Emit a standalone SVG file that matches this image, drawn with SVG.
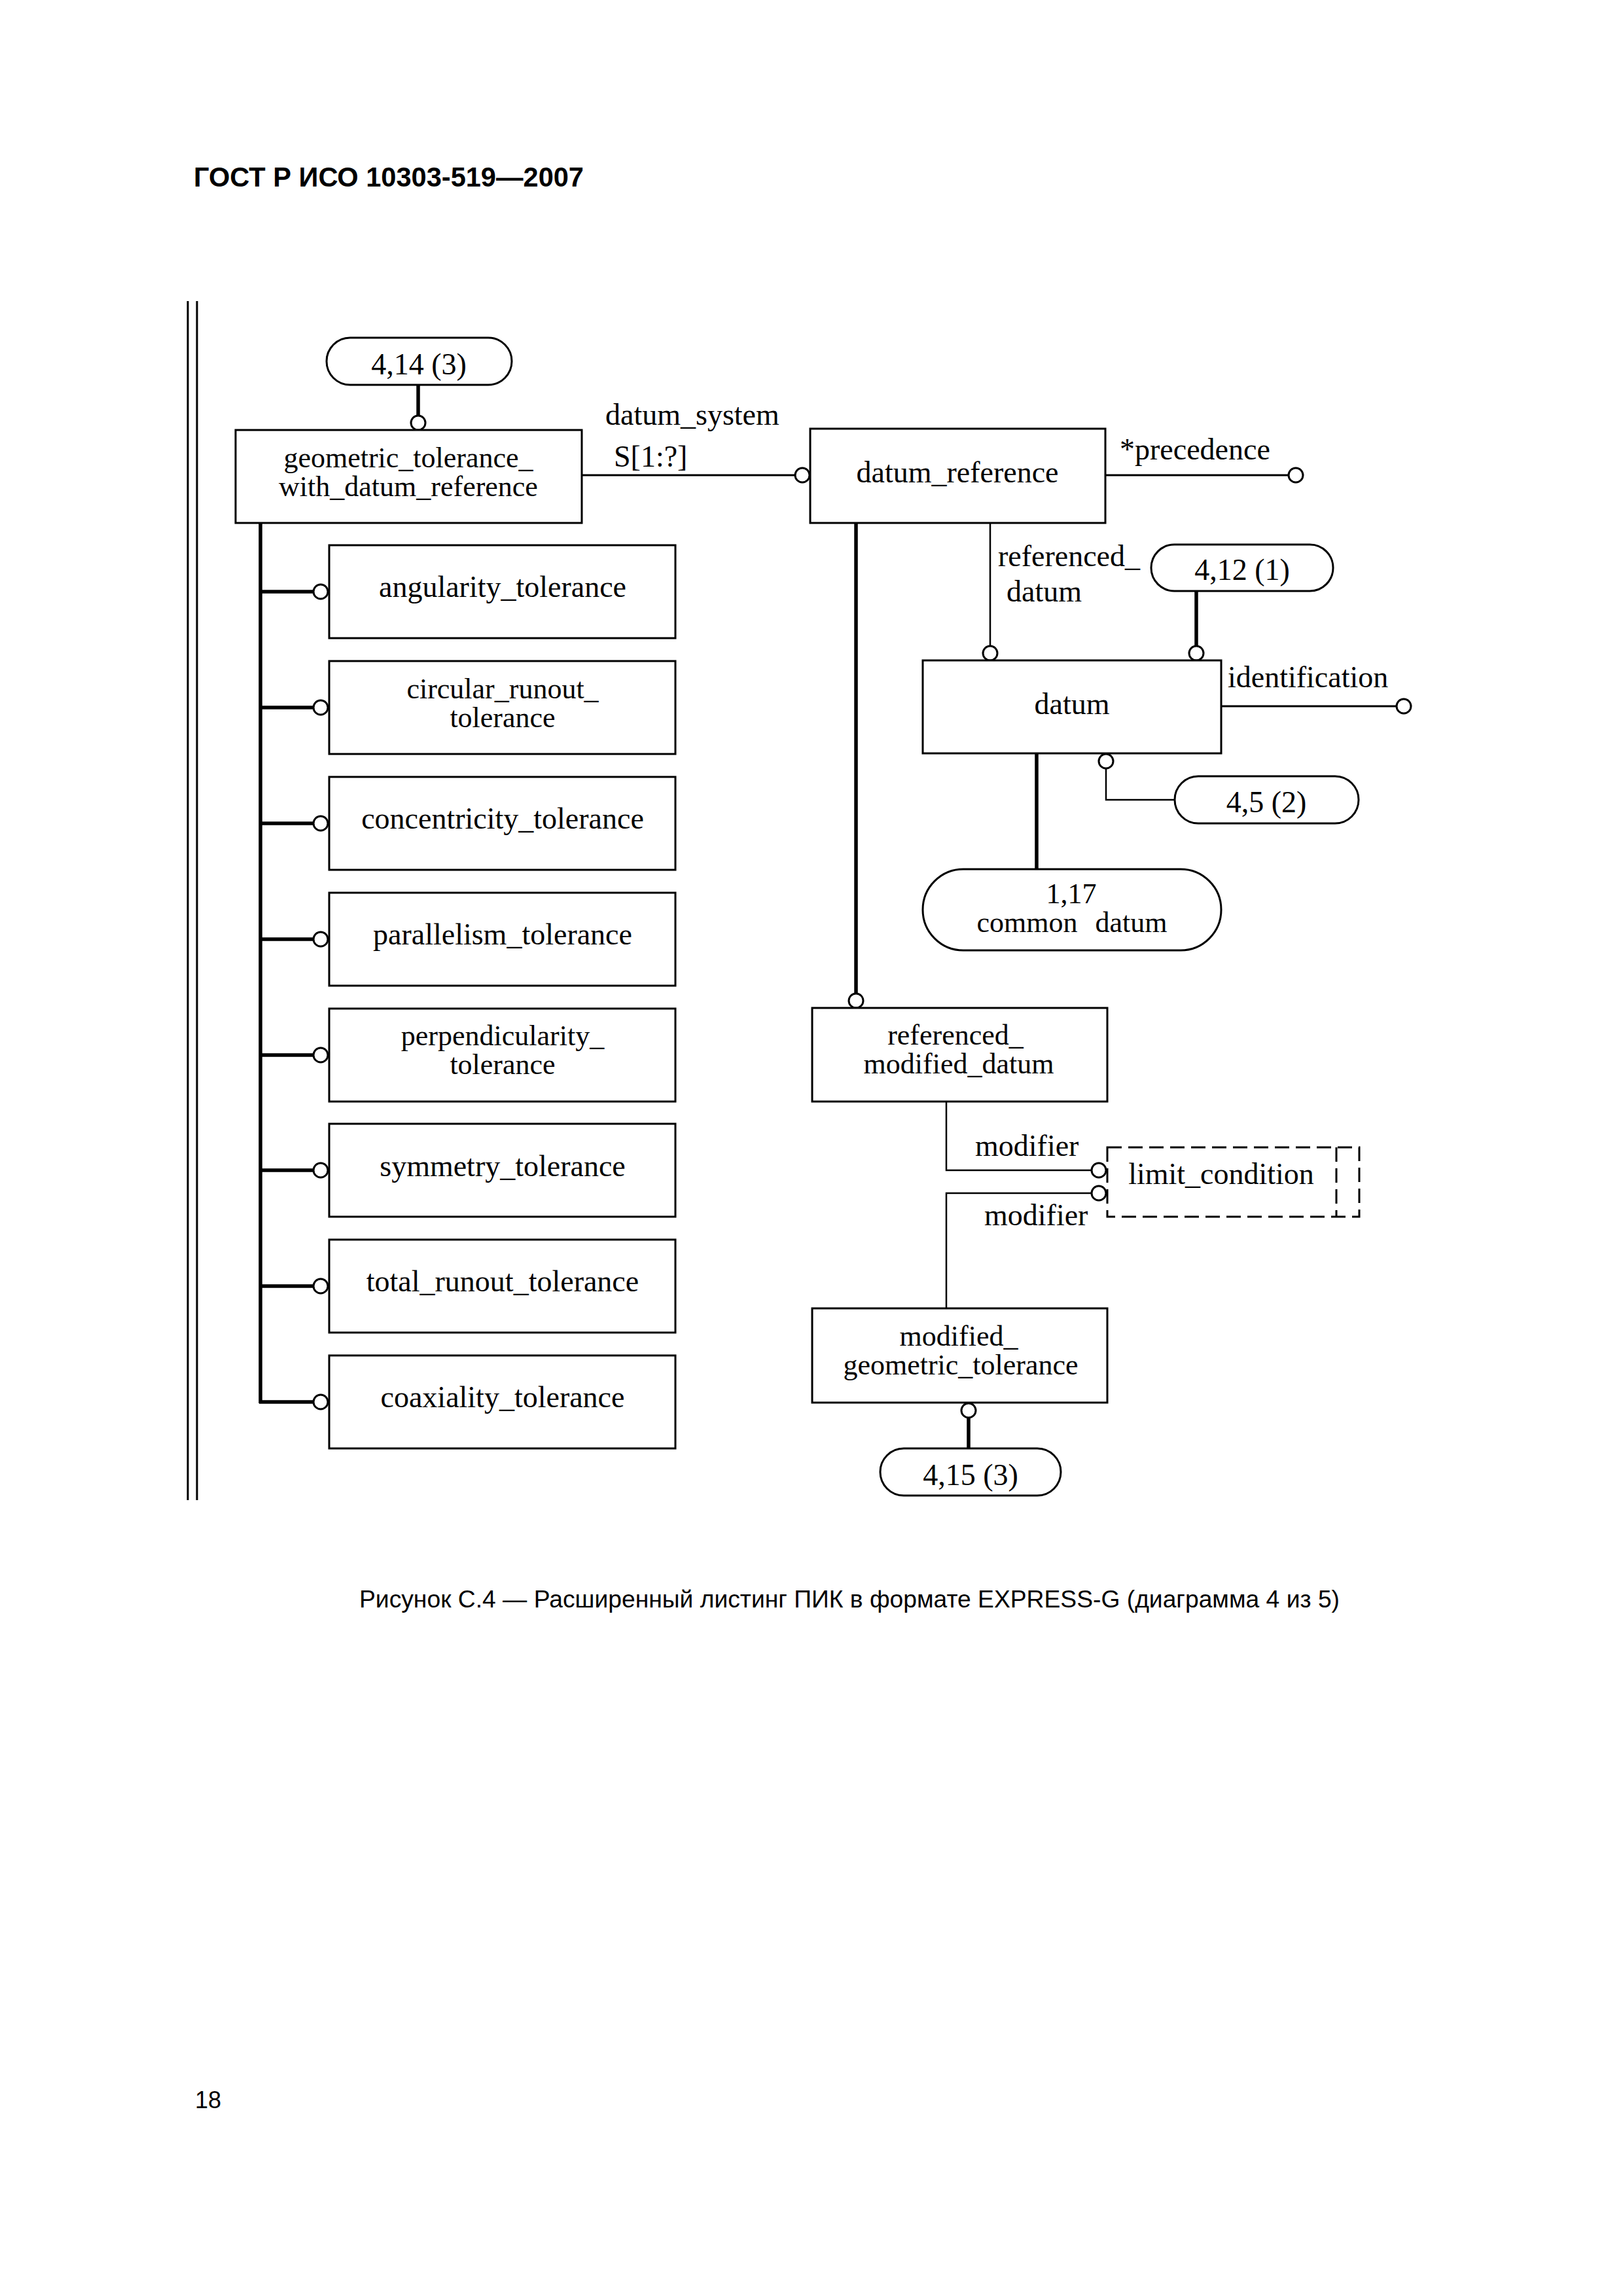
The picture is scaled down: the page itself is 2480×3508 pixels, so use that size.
<svg xmlns="http://www.w3.org/2000/svg" width="2480" height="3508" viewBox="0 0 2480 3508">
<style>
  .bg{fill:#fff}
  .box{fill:#fff;stroke:#000;stroke-width:3}
  .oval{fill:#fff;stroke:#000;stroke-width:3}
  .dash{fill:none;stroke:#000;stroke-width:3;stroke-dasharray:22 10}
  .t{font-family:"Liberation Serif","Times New Roman",serif;font-size:46px;fill:#000;text-anchor:middle}
  .t2{font-family:"Liberation Serif","Times New Roman",serif;font-size:44px;fill:#000;text-anchor:middle}
  .l{font-family:"Liberation Serif","Times New Roman",serif;font-size:46px;fill:#000;text-anchor:start}
  .sans{font-family:"Liberation Sans",Arial,sans-serif;fill:#000}
  .ln{fill:none;stroke:#000;stroke-width:3}
  .thin{fill:none;stroke:#000;stroke-width:2.5}
  .thick{fill:none;stroke:#000;stroke-width:5.5}
  .c{fill:#fff;stroke:#000;stroke-width:3}
</style>
<rect class="bg" x="0" y="0" width="2480" height="3508"/>

<text class="sans" x="296" y="285" font-size="42" font-weight="bold" textLength="596" lengthAdjust="spacingAndGlyphs">ГОСТ Р ИСО 10303-519—2007</text>

<g id="frame">
  <line class="ln" x1="287" y1="460" x2="287" y2="2292"/>
  <line class="ln" x1="301" y1="460" x2="301" y2="2292"/>
</g>

<g id="connectors">
  <line class="thick" x1="639" y1="588" x2="639" y2="635"/>
  <circle class="c" cx="639" cy="646" r="11"/>

  <line class="ln" x1="889" y1="726" x2="1215" y2="726"/>
  <circle class="c" cx="1226" cy="726" r="11"/>

  <line class="ln" x1="1689" y1="726" x2="1969" y2="726"/>
  <circle class="c" cx="1980" cy="726" r="11"/>

  <line class="thin" x1="1513" y1="799" x2="1513" y2="987"/>
  <circle class="c" cx="1513" cy="998" r="11"/>

  <line class="thick" x1="1828" y1="903" x2="1828" y2="987"/>
  <circle class="c" cx="1828" cy="998" r="11"/>

  <line class="ln" x1="1866" y1="1079" x2="2134" y2="1079"/>
  <circle class="c" cx="2145" cy="1079" r="11"/>

  <path class="thin" d="M1690,1174 V1222 H1795"/>
  <circle class="c" cx="1690" cy="1163" r="11"/>

  <line class="thick" x1="1584" y1="1151" x2="1584" y2="1328"/>

  <line class="thick" x1="1308" y1="799" x2="1308" y2="1518"/>
  <circle class="c" cx="1308" cy="1529" r="11"/>

  <path class="thin" d="M1446,1683 V1788 H1667"/>
  <circle class="c" cx="1679" cy="1788" r="11"/>
  <path class="thin" d="M1446,1999 V1823 H1667"/>
  <circle class="c" cx="1679" cy="1823" r="11"/>

  <line class="thick" x1="1480" y1="2166" x2="1480" y2="2213"/>
  <circle class="c" cx="1480" cy="2155" r="11"/>

  <line class="thick" x1="398" y1="799" x2="398" y2="2144"/>
  <path class="thick" d="M398,904 H479 M398,1081 H479 M398,1258 H479 M398,1435 H479 M398,1612 H479 M398,1788 H479 M398,1965 H479 M396,2142 H479"/>
  <circle class="c" cx="490" cy="904" r="11"/>
  <circle class="c" cx="490" cy="1081" r="11"/>
  <circle class="c" cx="490" cy="1258" r="11"/>
  <circle class="c" cx="490" cy="1435" r="11"/>
  <circle class="c" cx="490" cy="1612" r="11"/>
  <circle class="c" cx="490" cy="1788" r="11"/>
  <circle class="c" cx="490" cy="1965" r="11"/>
  <circle class="c" cx="490" cy="2142" r="11"/>

  <text class="l" x="925" y="649">datum_system</text>
  <text class="l" x="938" y="713">S[1:?]</text>
  <text class="l" x="1711" y="702">*precedence</text>
  <text class="l" x="1525" y="865">referenced_</text>
  <text class="l" x="1538" y="919">datum</text>
  <text class="l" x="1876" y="1050">identification</text>
  <text class="l" x="1490" y="1766">modifier</text>
  <text class="l" x="1504" y="1872">modifier</text>
</g>

<g id="ref_4_14_3">
  <rect class="oval" x="499" y="516" width="283" height="72" rx="36" ry="36"/>
  <text class="t" x="640" y="572">4,14 (3)</text>
</g>

<g id="geometric_tolerance_with_datum_reference">
  <rect class="box" x="360" y="657" width="529" height="142"/>
  <text class="t2" x="624" y="714">geometric_tolerance_</text>
  <text class="t2" x="624" y="758">with_datum_reference</text>
</g>

<g id="angularity_tolerance">
  <rect class="box" x="503" y="833" width="529" height="142"/>
  <text class="t" x="768" y="912">angularity_tolerance</text>
</g>
<g id="circular_runout_tolerance">
  <rect class="box" x="503" y="1010" width="529" height="142"/>
  <text class="t2" x="768" y="1067">circular_runout_</text>
  <text class="t2" x="768" y="1111">tolerance</text>
</g>
<g id="concentricity_tolerance">
  <rect class="box" x="503" y="1187" width="529" height="142"/>
  <text class="t" x="768" y="1266">concentricity_tolerance</text>
</g>
<g id="parallelism_tolerance">
  <rect class="box" x="503" y="1364" width="529" height="142"/>
  <text class="t" x="768" y="1443">parallelism_tolerance</text>
</g>
<g id="perpendicularity_tolerance">
  <rect class="box" x="503" y="1541" width="529" height="142"/>
  <text class="t2" x="768" y="1597">perpendicularity_</text>
  <text class="t2" x="768" y="1641">tolerance</text>
</g>
<g id="symmetry_tolerance">
  <rect class="box" x="503" y="1717" width="529" height="142"/>
  <text class="t" x="768" y="1797">symmetry_tolerance</text>
</g>
<g id="total_runout_tolerance">
  <rect class="box" x="503" y="1894" width="529" height="142"/>
  <text class="t" x="768" y="1973">total_runout_tolerance</text>
</g>
<g id="coaxiality_tolerance">
  <rect class="box" x="503" y="2071" width="529" height="142"/>
  <text class="t" x="768" y="2150">coaxiality_tolerance</text>
</g>

<g id="datum_reference">
  <rect class="box" x="1238" y="655" width="451" height="144"/>
  <text class="t" x="1463" y="737">datum_reference</text>
</g>

<g id="ref_4_12_1">
  <rect class="oval" x="1759" y="832" width="278" height="71" rx="35.5" ry="35.5"/>
  <text class="t" x="1898" y="886">4,12 (1)</text>
</g>

<g id="datum">
  <rect class="box" x="1410" y="1009" width="456" height="142"/>
  <text class="t" x="1638" y="1091">datum</text>
</g>

<g id="ref_4_5_2">
  <rect class="oval" x="1795" y="1186" width="281" height="72" rx="36" ry="36"/>
  <text class="t" x="1935" y="1241">4,5 (2)</text>
</g>

<g id="ref_1_17_common_datum">
  <rect class="oval" x="1410" y="1328" width="456" height="124" rx="62" ry="62"/>
  <text class="t2" x="1637" y="1380">1,17</text>
  <text class="t2" x="1638" y="1424" word-spacing="16">common datum</text>
</g>

<g id="referenced_modified_datum">
  <rect class="box" x="1241" y="1540" width="451" height="143"/>
  <text class="t2" x="1460" y="1596">referenced_</text>
  <text class="t2" x="1465" y="1640">modified_datum</text>
</g>

<g id="limit_condition">
  <rect class="dash" x="1692" y="1753" width="385" height="106"/>
  <line class="dash" x1="2042" y1="1753" x2="2042" y2="1859"/>
  <text class="t" x="1866" y="1809">limit_condition</text>
</g>

<g id="modified_geometric_tolerance">
  <rect class="box" x="1241" y="1999" width="451" height="144"/>
  <text class="t2" x="1465" y="2056">modified_</text>
  <text class="t2" x="1468" y="2100">geometric_tolerance</text>
</g>

<g id="ref_4_15_3">
  <rect class="oval" x="1345" y="2213" width="276" height="72" rx="36" ry="36"/>
  <text class="t" x="1483" y="2269">4,15 (3)</text>
</g>

<text class="sans" x="549" y="2456" font-size="36" textLength="1498" lengthAdjust="spacingAndGlyphs">Рисунок С.4 — Расширенный листинг ПИК в формате EXPRESS-G (диаграмма 4 из 5)</text>
<text class="sans" x="298" y="3221" font-size="36">18</text>
</svg>
